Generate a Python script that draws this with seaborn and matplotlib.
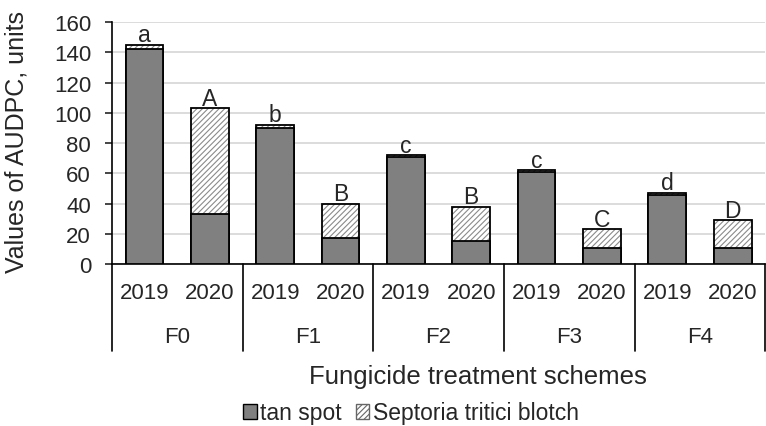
import numpy as np
import pandas as pd
import matplotlib
matplotlib.use("Agg")
import matplotlib.pyplot as plt
import matplotlib.transforms as mtransforms
from matplotlib.patches import Patch, Rectangle
import seaborn as sns

schemes = ["F0", "F1", "F2", "F3", "F4"]
years = ["2019", "2020"]
tan_spot = [142, 33, 90, 17, 71, 15, 61, 11, 46, 11]
septoria = [3, 70, 2, 23, 1, 23, 1, 12, 1, 18]
letters = ["a", "A", "b", "B", "c", "B", "c", "C", "d", "D"]

slots = [f"{s}_{y}" for s in schemes for y in years]
df = pd.DataFrame({
    "slot": slots,
    "year": [y for s in schemes for y in years],
    "tan": tan_spot,
    "sept": septoria,
})
df["total"] = df["tan"] + df["sept"]

sns.set_style("white")
plt.rcParams["font.family"] = ["Liberation Sans", "DejaVu Sans"]
plt.rcParams["hatch.linewidth"] = 0.8

fig = plt.figure(figsize=(7.66, 4.27), dpi=100)
ax = fig.add_axes([0.146, 0.379, 0.853, 0.567])

bw = 0.58
sns.barplot(data=df, x="slot", y="total", order=slots, color="white",
            width=bw, edgecolor="#8a8a8a", linewidth=0, hatch="//////", ax=ax)
# black outline round the whole stack
for p in list(ax.patches):
    ax.add_patch(Rectangle(p.get_xy(), p.get_width(), p.get_height(),
                           fill=False, edgecolor="black", linewidth=1.3, zorder=3))
sns.barplot(data=df, x="slot", y="tan", order=slots, color="#808080",
            width=bw, edgecolor="black", linewidth=1.3, ax=ax, zorder=4)
for p in ax.patches:
    if p.get_facecolor()[0] < 0.9 and p.get_fill():
        p.set_facecolor("#808080")
        p.set_zorder(4)

for i, (t, lab) in enumerate(zip(df["total"], letters)):
    ax.annotate(lab, (i, t), xytext=(0, -1), textcoords="offset points",
                ha="center", va="bottom", fontsize=16.5, zorder=5)

ax.set_ylim(0, 160)
ax.set_xlim(-0.5, 9.5)
ax.set_yticks(np.arange(0, 161, 20))
ax.yaxis.grid(True, color="#d9d9d9", linewidth=1.3)
ax.set_axisbelow(True)
for side in ["top", "right"]:
    ax.spines[side].set_visible(False)
ax.spines["left"].set_color("black")
ax.spines["bottom"].set_color("black")
ax.spines["left"].set_linewidth(1.2)
ax.spines["bottom"].set_linewidth(1.2)
ax.tick_params(axis="y", direction="out", length=5, width=1.2, left=True, labelsize=16, pad=10)
ax.set_xticks(range(len(slots)))
ax.set_xticklabels(df["year"], fontsize=16)
ax.tick_params(axis="x", length=0, pad=13)
ax.set_xlabel("")
ax.set_ylabel("Values of AUDPC, units", fontsize=18)
ax.yaxis.set_label_coords(-0.128, 0.51)

trans = mtransforms.blended_transform_factory(ax.transData, ax.transAxes)
for g, s in enumerate(schemes):
    ax.text(2 * g + 0.5, -0.30, s, transform=trans, ha="center", va="center", fontsize=16)
for b in np.arange(-0.5, 10, 2):
    ax.plot([b, b], [0, -0.36], transform=trans, color="black", lw=1.2, clip_on=False)

fig.text(478 / 766, 1 - 377 / 427, "Fungicide treatment schemes", ha="center", va="center",
         fontsize=18.5)

handles = [Patch(facecolor="#808080", edgecolor="black", label="tan spot"),
           Patch(facecolor="white", edgecolor="#666666", hatch="//////", label="Septoria tritici blotch")]
fig.legend(handles=handles, loc="center", bbox_to_anchor=(411 / 766, 1 - 414 / 427), ncol=2,
           frameon=False, fontsize=16.5, handlelength=0.6, handleheight=0.6,
           handletextpad=0.15, columnspacing=0.6, borderpad=0)

fig.savefig("out.png", dpi=100)
